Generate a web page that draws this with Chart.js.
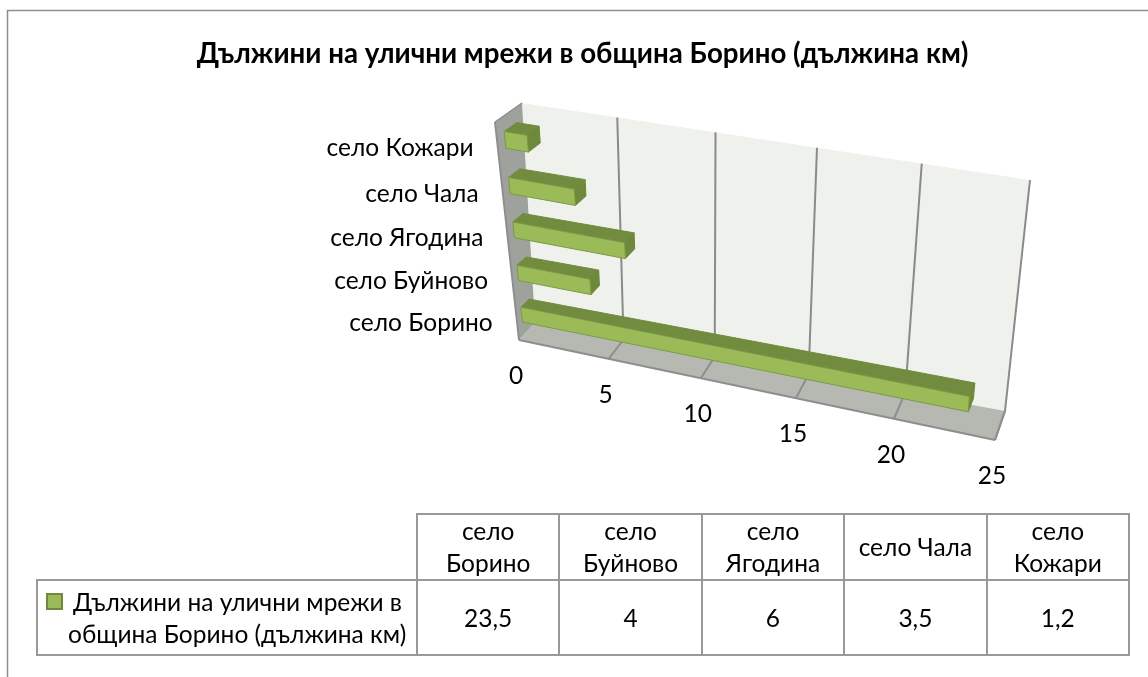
<!DOCTYPE html>
<html>
<head>
<meta charset="utf-8">
<script src="https://cdn.jsdelivr.net/npm/chart.js@4"></script>
<style>
    html, body { margin: 0; padding: 0; background: #fff; }
    #wrap { position: relative; width: 1148px; height: 677px; overflow: hidden; }
    canvas { position: absolute; left: 0; top: 0; }
    #dataTable {
        position: absolute; left: 36px; top: 513px; width: 1094px; height: 141px;
        border-collapse: collapse; table-layout: fixed;
        font: 24.5px Lato, "Noto Sans", sans-serif; color: #000;
    }
    #dataTable td { border: 2px solid #999; text-align: center; padding: 0 8px; line-height: 32px; }
    #dataTable td.blank { border: none; border-right: 2px solid #999; border-bottom: 2px solid #999; }
    #dataTable td.series { text-align: left; padding: 0; position: relative; white-space: nowrap; }
    #dataTable .key {
        position: absolute; left: 8px; top: 12px; width: 13px; height: 13px;
        background: #9BBB59; border: 2px solid #71893F;
    }
</style>
</head>
<body>
<div id="wrap">
    <canvas id="chart" width="1148" height="677"></canvas>
    <table id="dataTable"></table>
</div>
<script>
// Data
const chartTitle = 'Дължини на улични мрежи в община Борино (дължина км)';
const seriesLines = ['Дължини на улични мрежи в', 'община Борино (дължина км)'];
const categories = ['село Борино', 'село Буйново', 'село Ягодина', 'село Чала', 'село Кожари'];
const lengths = [23.5, 4, 6, 3.5, 1.2];
const tableValues = ['23,5', '4', '6', '3,5', '1,2'];
const valueTicks = [0, 5, 10, 15, 20, 25];

const FONT = 'Lato, "Noto Sans", sans-serif';

// Where the flat plot plane lands on screen: back wall and front plane corners
const BACK = { bl: [535, 323], br: [1005, 411], tr: [1030, 180], tl: [522, 103] };
const FRONT = { bl: [519, 340], br: [995, 440], tr: [1010, 212], tl: [495, 122] };
const BAR_DEPTH = [0.29, 0.76];

const lerp = (a, b, t) => [a[0] + (b[0] - a[0]) * t, a[1] + (b[1] - a[1]) * t];

// unit square -> quad, perspective
function quadMap(bl, br, tr, tl, u, v) {
    const dx1 = br[0] - tr[0], dx2 = tl[0] - tr[0], sx = bl[0] - br[0] + tr[0] - tl[0];
    const dy1 = br[1] - tr[1], dy2 = tl[1] - tr[1], sy = bl[1] - br[1] + tr[1] - tl[1];
    const den = dx1 * dy2 - dx2 * dy1;
    const g = (sx * dy2 - dx2 * sy) / den;
    const h = (dx1 * sy - sx * dy1) / den;
    const a = br[0] - bl[0] + g * br[0], b = tl[0] - bl[0] + h * tl[0], c = bl[0];
    const d = br[1] - bl[1] + g * br[1], e = tl[1] - bl[1] + h * tl[1], f = bl[1];
    const q = g * u + h * v + 1;
    return [(a * u + b * v + c) / q, (d * u + e * v + f) / q];
}

// u along value axis, v up the category axis, w from front (0) to back (1)
function project(u, v, w) {
    return quadMap(
        lerp(FRONT.bl, BACK.bl, w), lerp(FRONT.br, BACK.br, w),
        lerp(FRONT.tr, BACK.tr, w), lerp(FRONT.tl, BACK.tl, w), u, v
    );
}

function poly(ctx, pts, fill, stroke, lw) {
    ctx.beginPath();
    pts.forEach((p, i) => i ? ctx.lineTo(p[0], p[1]) : ctx.moveTo(p[0], p[1]));
    ctx.closePath();
    if (fill) { ctx.fillStyle = fill; ctx.fill(); }
    if (stroke) { ctx.strokeStyle = stroke; ctx.lineWidth = lw || 1; ctx.stroke(); }
}

function line(ctx, a, b, color, lw) {
    ctx.beginPath();
    ctx.moveTo(a[0], a[1]);
    ctx.lineTo(b[0], b[1]);
    ctx.strokeStyle = color;
    ctx.lineWidth = lw;
    ctx.stroke();
}

const perspectivePlugin = {
    id: 'perspective',
    beforeDraw(chart) {
        const ctx = chart.ctx;
        ctx.save();
        // outer frame, only left and top fall inside the window
        ctx.strokeStyle = '#8e8e8e';
        ctx.lineWidth = 1.5;
        ctx.beginPath();
        ctx.moveTo(7.5, 677);
        ctx.lineTo(7.5, 10.5);
        ctx.lineTo(1148, 10.5);
        ctx.stroke();
        ctx.restore();
    },
    beforeDatasetsDraw(chart) {
        const ctx = chart.ctx, area = chart.chartArea;
        const xs = chart.scales.x, ys = chart.scales.y;
        const toU = px => (px - area.left) / area.width;
        const toV = py => (area.bottom - py) / area.height;
        ctx.save();

        // walls and floor
        poly(ctx, [project(0, 0, 1), project(1, 0, 1), project(1, 1, 1), project(0, 1, 1)], '#EFF2EC');
        poly(ctx, [project(0, 0, 0), project(0, 0, 1), project(0, 1, 1), project(0, 1, 0)], '#9FA29C');
        poly(ctx, [project(0, 0, 0), project(1, 0, 0), project(1, 0, 1), project(0, 0, 1)], '#B6B9B2');
        line(ctx, project(0, 0, 0), project(0, 1, 0), '#8e8e8e', 2);
        line(ctx, project(0, 1, 0), project(0, 1, 1), '#8e8e8e', 1.5);
        line(ctx, project(0, 0, 0), project(1, 0, 0), '#8e8e8e', 2);
        line(ctx, project(1, 0, 0), project(1, 0, 1), '#8e8e8e', 2);

        // grid lines from the value scale
        xs.ticks.forEach(t => {
            const u = toU(xs.getPixelForValue(t.value));
            if (u > 0) line(ctx, project(u, 0, 1), project(u, 1, 1), '#8a8a8a', 2);
            if (u > 0) line(ctx, project(u, 0, 0), project(u, 0, 1), '#8e8e8e', 2);
        });

        // bars, from the bar elements the library laid out
        const bars = chart.getDatasetMeta(0).data;
        for (let i = bars.length - 1; i >= 0; i--) {
            const b = bars[i];
            const u0 = toU(b.base), u1 = toU(b.x);
            const v0 = toV(b.y + b.height / 2), v1 = toV(b.y - b.height / 2);
            const w0 = BAR_DEPTH[0], w1 = BAR_DEPTH[1];
            poly(ctx, [project(u0, v1, w0), project(u1, v1, w0), project(u1, v1, w1), project(u0, v1, w1)], '#728C3F', '#728C3F', 1);
            poly(ctx, [project(u1, v0, w0), project(u1, v0, w1), project(u1, v1, w1), project(u1, v1, w0)], '#6E883C', '#6E883C', 1);
            poly(ctx, [project(u0, v0, w0), project(u1, v0, w0), project(u1, v1, w0), project(u0, v1, w0)], '#9BBB59', '#7C9A45', 1);
        }

        // axis labels follow the projected edges
        ctx.fillStyle = '#000';
        ctx.font = '24.5px ' + FONT;
        ctx.textBaseline = 'middle';
        ctx.textAlign = 'center';
        xs.ticks.forEach(t => {
            const u = toU(xs.getPixelForValue(t.value));
            const p = project(u, 0, 0);
            ctx.fillText(t.label, p[0] - 3, p[1] + 36);
        });
        ctx.textAlign = 'right';
        ys.ticks.forEach((t, i) => {
            const v = toV(ys.getPixelForTick(i));
            const p = project(0, v, 0);
            ctx.fillText(categories[i], p[0] - 24, p[1] + 3);
        });
        ctx.restore();
        return false;
    }
};

new Chart(document.getElementById('chart').getContext('2d'), {
    type: 'bar',
    data: {
        labels: categories,
        datasets: [{
            label: chartTitle,
            data: lengths,
            backgroundColor: '#9BBB59',
            borderColor: '#71893F',
            categoryPercentage: 1,
            barPercentage: 0.36
        }]
    },
    options: {
        indexAxis: 'y',
        responsive: false,
        animation: false,
        layout: { padding: { left: 17, top: 37 } },
        plugins: {
            legend: { display: false },
            tooltip: { enabled: false },
            title: {
                display: true,
                text: chartTitle,
                color: '#000',
                font: { family: FONT, size: 27.7, weight: 'bold' },
                padding: { top: 0, bottom: 10 }
            }
        },
        scales: {
            x: {
                display: false,
                min: 0,
                max: valueTicks[valueTicks.length - 1],
                ticks: { stepSize: valueTicks[1] - valueTicks[0] }
            },
            y: { display: false, reverse: true }
        }
    },
    plugins: [perspectivePlugin]
});

// Data table under the plot
const table = document.getElementById('dataTable');
const colgroup = '<colgroup><col style="width:380px">' + categories.map(() => '<col>').join('') + '</colgroup>';
table.innerHTML = colgroup +
    '<tr style="height:65px"><td class="blank"></td>' + categories.map(c => `<td>${c}</td>`).join('') + '</tr>' +
    '<tr style="height:75px"><td class="series"><span class="key"></span>' +
    `<div style="margin-left:35px">${seriesLines[0]}</div><div style="margin-left:30px">${seriesLines[1]}</div></td>` +
    tableValues.map(v => `<td>${v}</td>`).join('') + '</tr>';
</script>
</body>
</html>
